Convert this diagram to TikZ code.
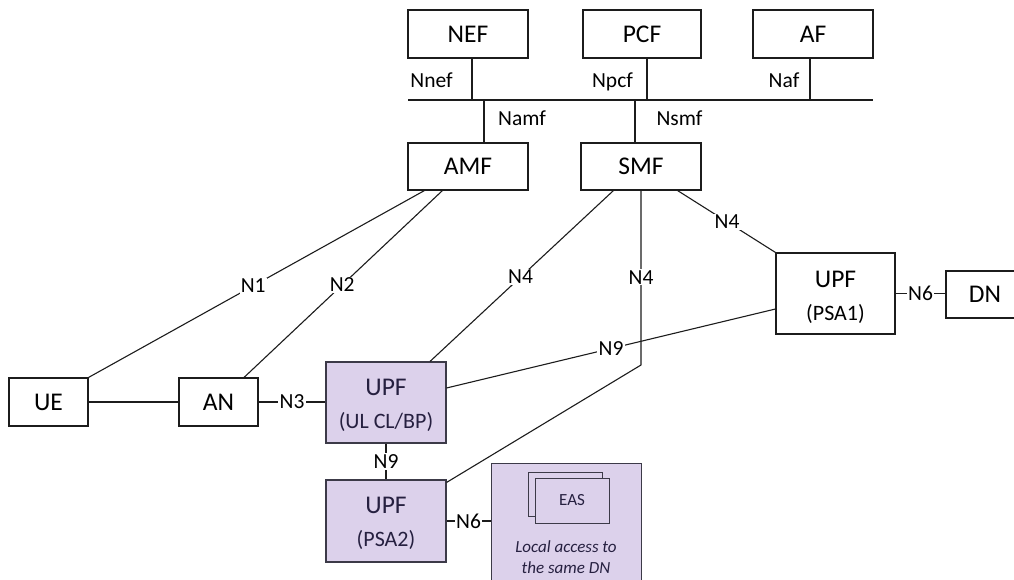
\documentclass[tikz,border=0pt]{standalone}
\usepackage{fontspec}
\setmainfont{Carlito}
\usetikzlibrary{calc}
\definecolor{upffill}{RGB}{220,209,235}
\definecolor{upftext}{RGB}{38,32,64}
\definecolor{edge}{RGB}{28,28,28}
\definecolor{upfedge}{RGB}{60,58,72}

\begin{document}
\begin{tikzpicture}[x=1pt,y=-1pt,
  box/.style={draw=edge, line width=1.1pt, fill=white, minimum width=120pt,
    minimum height=48pt, inner sep=0pt, font=\fontsize{25.5}{28}\selectfont},
  upfbox/.style={draw=upfedge, line width=1.1pt, fill=upffill,
    minimum width=120pt, minimum height=81pt, inner sep=0pt},
  upfmain/.style={anchor=base, inner sep=0pt, text=upftext, font=\fontsize{25.5}{28}\selectfont},
  upfsub/.style={anchor=base, inner sep=0pt, text=upftext, font=\fontsize{22}{24}\selectfont},
  lbl/.style={fill=white, inner sep=1.2pt, font=\fontsize{21.5}{24}\selectfont},
  tag/.style={anchor=base, inner sep=0pt, font=\fontsize{21.5}{24}\selectfont},
  wire/.style={draw=edge, line width=1.1pt},
  easbox/.style={draw=upfedge, line width=1pt, fill=upffill}]

\useasboundingbox (0,0) rectangle (1014,580);
\clip (0,0) rectangle (1014,580);

% control plane functions
\node[box] (nef) at (468,34) {NEF};
\node[box, minimum width=118pt] (pcf) at (642,34) {PCF};
\node[box] (af)  at (813,34) {AF};
\node[box, minimum height=47pt] (amf) at (468,166.5) {AMF};
\node[box, minimum height=47pt] (smf) at (641,166.5) {SMF};

% service bus
\coordinate (busL) at (408,100);
\coordinate (busR) at (873,100);
\draw[wire] (busL) -- (busR);

\coordinate (nefp) at ($(nef.south)+(4,0)$);
\coordinate (pcfp) at ($(pcf.south)+(5,0)$);
\coordinate (afp)  at ($(af.south)+(-3,0)$);
\coordinate (amfp) at ($(amf.north)+(16,0)$);
\coordinate (smfp) at ($(smf.north)+(-6,0)$);
\draw[wire] (nefp) -- (nefp |- busL);
\draw[wire] (pcfp) -- (pcfp |- busL);
\draw[wire] (afp)  -- (afp |- busL);
\draw[wire] (amfp) -- (amfp |- busL);
\draw[wire] (smfp) -- (smfp |- busL);

\node[tag] (tnef)  at (431.5,88) {Nnef};
\node[tag] (tpcf)  at (612.5,88) {Npcf};
\node[tag] (taf)   at (784,88)   {Naf};
\node[tag] (tamf)  at (522,126)  {Namf};
\node[tag] (tsmf)  at (679.5,126) {Nsmf};

% access side
\node[box, minimum width=79pt] (ue) at (48.5,402) {UE};
\node[box, minimum width=79pt] (an) at (218.5,402) {AN};

% user plane functions
\node[upfbox] (ulcl) at (386,402.5) {};
\node[upfmain] (ulclA) at (386,395) {UPF};
\node[upfsub]  (ulclB) at (386,428) {(UL CL/BP)};

\node[upfbox, minimum height=82pt] (psa2) at (386,521) {};
\node[upfmain] (psa2A) at (386,513) {UPF};
\node[upfsub]  (psa2B) at (386,546) {(PSA2)};

\node[box, minimum width=119pt, minimum height=81pt] (psa1) at (835.5,293.5) {};
\node[upfmain, text=black] (psa1A) at (835.5,287) {UPF};
\node[upfsub, text=black]  (psa1B) at (835.5,320) {(PSA1)};

\node[box, minimum width=78pt, minimum height=47pt] (dn) at (985,294.5) {DN};

% local data network with edge application servers
\node[easbox, minimum width=150pt, minimum height=137pt, inner sep=0pt] (ldn) at (566,531.5) {};
\node[easbox, minimum width=74pt, minimum height=44pt, inner sep=0pt] (easB) at (565,494) {};
\node[easbox, minimum width=74pt, minimum height=45pt, inner sep=0pt, text=upftext,
  font=\fontsize{17}{20}\selectfont] (easF) at (572,500.5) {EAS};
\node[anchor=base, inner sep=0pt, text=upftext, font=\fontsize{17}{20}\selectfont\itshape]
  (ldnA) at (566,552) {Local access to};
\node[anchor=base, inner sep=0pt, text=upftext, font=\fontsize{17}{20}\selectfont\itshape]
  (ldnB) at (566,573) {the same DN};

% reference points
\draw[wire] ($(amf.south west)+(17,0)$) -- node[lbl, pos=0.51] {N1} (ue.north east);
\draw[wire] ($(amf.south west)+(35,0)$) -- node[lbl, pos=0.505] {N2} ($(an.north)+(25.5,0)$);
\draw[wire] (ue.east) -- (an.west);
\draw[wire] (an.east) -- node[lbl] {N3} (an.east -| ulcl.west);

\draw[wire] ($(smf.south west)+(33,0)$) -- node[lbl, pos=0.506] {N4} ($(ulcl.north)+(44,0)$);
\coordinate (bend) at (641,365);
\draw[wire] (smf.south) -- node[lbl, pos=0.497] {N4} (bend) -- ($(psa2.north east)+(0,3)$);
\draw[wire] ($(smf.south east)+(-24,0)$) -- node[lbl, pos=0.505] {N4} (psa1.north west);

\draw[wire] ($(ulcl.east)+(0,-14.5)$) -- node[lbl, pos=0.5] {N9} ($(psa1.west)+(0,15.5)$);
\draw[wire] (ulcl.south) -- node[lbl] {N9} (psa2.north);
\draw[wire] (psa1.east) -- node[lbl] {N6} (psa1.east -| dn.west);
\draw[wire] (psa2.east) -- node[lbl] {N6} (psa2.east -| ldn.west);

\end{tikzpicture}
\end{document}
